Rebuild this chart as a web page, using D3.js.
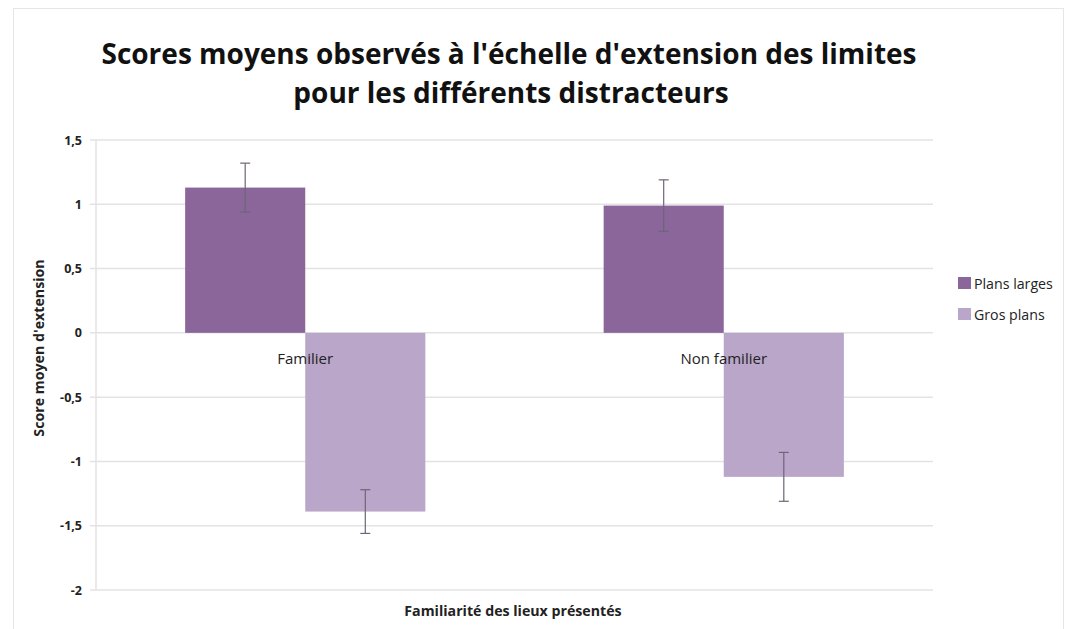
<!DOCTYPE html>
<html><head><meta charset="utf-8">
<script src="https://cdn.jsdelivr.net/npm/d3@7"></script>
<style>body{margin:0;background:#fff}svg{display:block}</style>
</head><body>
<svg id="c" width="1071" height="629"></svg>
<script>
const categories = ["Familier", "Non familier"];
const seriesNames = ["Plans larges", "Gros plans"];
const plansLarges = [1.13, 0.99];
const grosPlans = [-1.39, -1.12];
const errPlansLarges = [0.19, 0.20];
const errGrosPlans = [0.17, 0.19];
const yTicks = [1.5, 1, 0.5, 0, -0.5, -1, -1.5, -2];
const colors = ["#8a669b", "#b9a6c9"];

const svg = d3.select("#c");
const font = "'Open Sans', Lato, sans-serif";
const L = 96, R = 933, T = 140, B = 590;

svg.append("rect").attr("x", 13.5).attr("y", 8.5).attr("width", 1050).attr("height", 640)
  .attr("fill", "none").attr("stroke", "#e6e6e6");

const y = d3.scaleLinear().domain([-2, 1.5]).range([B, T]);
const x0 = d3.scaleBand().domain(categories).range([L, R]).paddingInner(0.426).paddingOuter(0.213);
const x1 = d3.scaleBand().domain(seriesNames).range([0, x0.bandwidth()]);

// gridlines
svg.append("g").selectAll("line").data(yTicks).join("line")
  .attr("x1", L - 6).attr("x2", R).attr("y1", d => y(d)).attr("y2", d => y(d))
  .attr("stroke", "#e3e3e3").attr("stroke-width", 1.5);
svg.append("line").attr("x1", L).attr("x2", L).attr("y1", T).attr("y2", B)
  .attr("stroke", "#e3e3e3").attr("stroke-width", 1.5);

// y axis labels
const yAxis = d3.axisLeft(y).tickValues(yTicks).tickSize(0).tickPadding(14)
  .tickFormat(d => String(d).replace(".", ","));
const ga = svg.append("g").attr("transform", `translate(${L},0)`).call(yAxis);
ga.select(".domain").remove();
ga.selectAll("text").attr("font-family", font).attr("font-size", 12.5).attr("font-weight", "bold").attr("fill", "#222");

const data = categories.map((c, i) => ({
  cat: c,
  vals: [
    {s: seriesNames[0], v: plansLarges[i], e: errPlansLarges[i]},
    {s: seriesNames[1], v: grosPlans[i], e: errGrosPlans[i]}
  ]
}));

const g = svg.append("g");
const grp = g.selectAll("g").data(data).join("g").attr("transform", d => `translate(${x0(d.cat)},0)`);
grp.selectAll("rect").data(d => d.vals).join("rect")
  .attr("x", d => x1(d.s)).attr("width", x1.bandwidth())
  .attr("y", d => y(Math.max(0, d.v))).attr("height", d => Math.abs(y(d.v) - y(0)))
  .attr("fill", (d, i) => colors[i]);

// error bars
grp.selectAll("g.err").data(d => d.vals).join("g").attr("class", "err").each(function(d) {
  const cx = x1(d.s) + x1.bandwidth() / 2;
  const e = d3.select(this);
  e.append("line").attr("x1", cx).attr("x2", cx).attr("y1", y(d.v + d.e)).attr("y2", y(d.v - d.e));
  e.append("line").attr("x1", cx - 5).attr("x2", cx + 5).attr("y1", y(d.v + d.e)).attr("y2", y(d.v + d.e));
  e.append("line").attr("x1", cx - 5).attr("x2", cx + 5).attr("y1", y(d.v - d.e)).attr("y2", y(d.v - d.e));
  e.selectAll("line").attr("stroke", "#6e6477").attr("stroke-width", 1.2);
});

// category labels
svg.append("g").selectAll("text").data(categories).join("text")
  .attr("x", d => x0(d) + x0.bandwidth() / 2).attr("y", y(0) + 31)
  .attr("text-anchor", "middle").attr("font-family", font).attr("font-size", 15).attr("fill", "#222")
  .text(d => d);

// title
const title = svg.append("text").attr("text-anchor", "middle").attr("font-family", font)
  .attr("font-weight", "bold").attr("font-size", 28).attr("fill", "#111");
title.append("tspan").attr("x", 509).attr("y", 64).text("Scores moyens observés à l'échelle d'extension des limites");
title.append("tspan").attr("x", 511).attr("y", 103).text("pour les différents distracteurs");

// axis titles
svg.append("text").attr("transform", `translate(44,348) rotate(-90)`)
  .attr("text-anchor", "middle").attr("font-family", font).attr("font-weight", "bold")
  .attr("font-size", 14.2).attr("fill", "#222").text("Score moyen d'extension");
svg.append("text").attr("x", 513).attr("y", 616).attr("text-anchor", "middle")
  .attr("font-family", font).attr("font-weight", "bold").attr("font-size", 14.2).attr("fill", "#222")
  .text("Familiarité des lieux présentés");

// legend
const lg = svg.append("g").attr("transform", "translate(958,277)");
seriesNames.forEach((s, i) => {
  lg.append("rect").attr("x", 0).attr("y", i * 31).attr("width", 13).attr("height", 12).attr("fill", colors[i]);
  lg.append("text").attr("x", 16).attr("y", i * 31 + 12).attr("font-family", font)
    .attr("font-size", 14.2).attr("fill", "#222").text(s);
});
</script>
</body></html>
